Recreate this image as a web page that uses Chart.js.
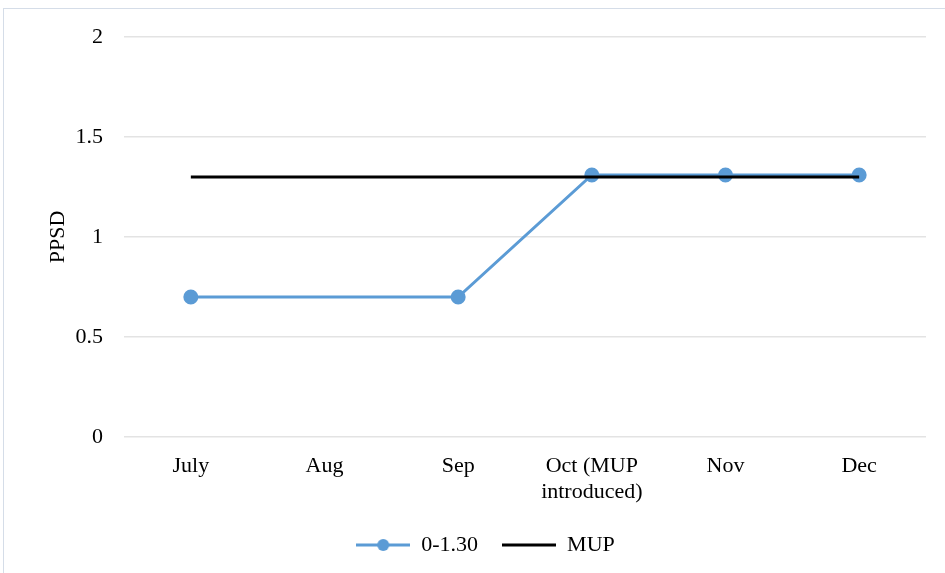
<!DOCTYPE html>
<html>
<head>
<meta charset="utf-8">
<script src="https://cdn.jsdelivr.net/npm/chart.js@4.4.0/dist/chart.umd.min.js"></script>
<style>
  html, body { margin: 0; padding: 0; background: #fff; }
  #wrap { position: relative; width: 945px; height: 573px; overflow: hidden; }
  #frame { position: absolute; left: 3px; top: 8px; width: 960px; height: 600px; border: 1px solid #d5dde8; }
  canvas { position: absolute; left: 0; top: 0; }
</style>
</head>
<body>
<div id="wrap">
  <div id="frame"></div>
  <canvas id="chart" width="945" height="573"></canvas>
</div>
<script>
// months on the x axis
const months = ["July", "Aug", "Sep", ["Oct (MUP", "introduced)"], "Nov", "Dec"];
// PPSD values (Aug has no point)
const ppsd = [0.7, null, 0.7, 1.31, 1.31, 1.31];
const mup = [1.3, 1.3, 1.3, 1.3, 1.3, 1.3];
const yTicks = [0, 0.5, 1, 1.5, 2];

const blue = '#5b9bd5';
const font = "'Liberation Serif', 'Times New Roman', serif";

// legend swatch: a short line, optionally with a dot in the middle
function swatch(color, withDot) {
    const c = document.createElement('canvas');
    c.width = 54; c.height = 14;
    const g = c.getContext('2d');
    g.strokeStyle = color;
    g.lineWidth = 3;
    g.beginPath(); g.moveTo(0, 7); g.lineTo(54, 7); g.stroke();
    if (withDot) {
        g.fillStyle = color;
        g.beginPath(); g.arc(27, 7, 6, 0, Math.PI * 2); g.fill();
    }
    return c;
}

const ctx = document.getElementById('chart').getContext('2d');
new Chart(ctx, {
    type: 'line',
    data: {
        labels: months,
        datasets: [{
            label: '0-1.30',
            data: ppsd,
            borderColor: blue,
            backgroundColor: blue,
            borderWidth: 3,
            pointRadius: 6,
            pointHoverRadius: 6,
            spanGaps: true,
            tension: 0,
            order: 2
        }, {
            label: 'MUP',
            data: mup,
            borderColor: '#000',
            backgroundColor: '#000',
            borderWidth: 3,
            pointRadius: 0,
            tension: 0,
            order: 1
        }]
    },
    options: {
        responsive: false,
        animation: false,
        layout: { padding: { top: 37, right: 19, bottom: 7, left: 45 } },
        plugins: {
            tooltip: { enabled: false },
            legend: {
                position: 'bottom',
                labels: {
                    usePointStyle: true,
                    pointStyleWidth: 54,
                    boxHeight: 14,
                    padding: 24,
                    color: '#000',
                    font: { family: font, size: 22 },
                    sort: (a, b) => a.datasetIndex - b.datasetIndex,
                    generateLabels: chart => chart.data.datasets.map((ds, i) => ({
                        text: ds.label,
                        datasetIndex: i,
                        pointStyle: swatch(ds.borderColor, i === 0),
                        fillStyle: ds.borderColor,
                        strokeStyle: ds.borderColor,
                        lineWidth: 0,
                        hidden: false,
                        fontColor: '#000'
                    }))
                }
            }
        },
        scales: {
            x: {
                offset: true,
                afterFit: axis => { axis.height = 73; },
                grid: { display: false },
                border: { display: false },
                ticks: { color: '#000', padding: 8, maxRotation: 0, font: { family: font, size: 22 } }
            },
            y: {
                min: 0,
                max: 2,
                afterBuildTicks: axis => { axis.ticks = yTicks.map(v => ({ value: v })); },
                afterFit: axis => { axis.width = 79; },
                grid: { color: '#e3e3e3', lineWidth: 1.5, drawTicks: false },
                border: { display: false },
                title: { display: true, text: 'PPSD', color: '#000', padding: 0, font: { family: font, size: 22 } },
                ticks: { color: '#000', padding: 21, font: { family: font, size: 22 }, callback: v => String(v) }
            }
        }
    }
});
</script>
</body>
</html>
